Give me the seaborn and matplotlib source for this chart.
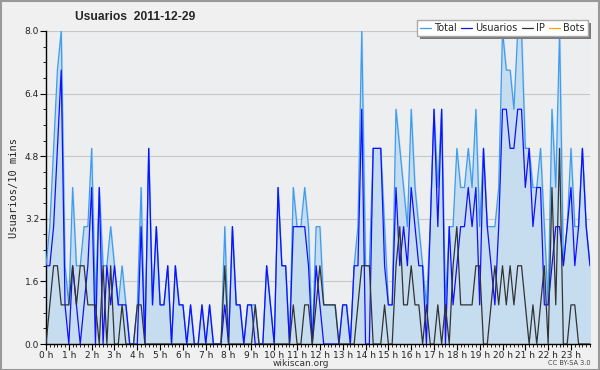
import numpy as np
import matplotlib
matplotlib.use("Agg")
import matplotlib.pyplot as plt
import seaborn as sns
import pandas as pd
from matplotlib.patches import Rectangle

# 10-minute samples over the day (144 points)
total = [2, 3, 5, 7, 8, 2, 1, 4, 2, 2, 3, 3, 5, 1, 4, 2, 2, 3, 2, 1, 2, 1, 0, 0,
         1, 4, 0, 5, 1, 3, 1, 1, 2, 0, 2, 1, 1, 0, 1, 0, 0, 1, 0, 1, 0, 0, 0, 3,
         0, 3, 1, 1, 0, 1, 1, 1, 0, 0, 2, 1, 0, 4, 2, 2, 0, 4, 3, 3, 4, 3, 0, 3,
         3, 1, 1, 1, 1, 0, 1, 1, 0, 2, 3, 8, 2, 2, 5, 5, 5, 3, 1, 1, 6, 5, 4, 3,
         6, 4, 3, 2, 1, 3, 6, 4, 6, 1, 3, 3, 5, 4, 4, 5, 4, 6, 3, 5, 3, 3, 3, 4,
         8, 7, 7, 6, 8, 8, 5, 5, 4, 4, 5, 3, 1, 6, 4, 8, 2, 3, 5, 3, 3, 5, 3, 2]
usuarios = [2, 2, 3, 5, 7, 1, 0, 2, 1, 0, 1, 2, 4, 0, 4, 0, 2, 1, 2, 1, 1, 1, 0, 0,
            0, 3, 0, 5, 1, 3, 1, 1, 2, 0, 2, 1, 1, 0, 1, 0, 0, 1, 0, 1, 0, 0, 0, 1,
            0, 3, 1, 1, 0, 1, 1, 0, 0, 0, 2, 1, 0, 4, 2, 2, 0, 3, 3, 3, 3, 2, 0, 2,
            1, 0, 0, 0, 0, 0, 1, 1, 0, 2, 2, 6, 0, 0, 5, 5, 5, 2, 1, 1, 4, 2, 3, 2,
            4, 3, 2, 2, 0, 3, 6, 3, 6, 0, 3, 1, 2, 3, 3, 4, 3, 4, 1, 5, 3, 2, 1, 3,
            6, 6, 5, 5, 6, 6, 4, 5, 3, 4, 4, 1, 1, 2, 3, 3, 2, 3, 4, 2, 3, 5, 3, 2]
ip = [0, 1, 2, 2, 1, 1, 1, 2, 1, 2, 2, 1, 1, 1, 0, 2, 0, 2, 0, 0, 1, 0, 0, 0,
      1, 1, 0, 0, 0, 0, 0, 0, 0, 0, 0, 0, 0, 0, 0, 0, 0, 0, 0, 0, 0, 0, 0, 2,
      0, 0, 0, 0, 0, 0, 0, 1, 0, 0, 0, 0, 0, 0, 0, 0, 0, 1, 0, 0, 1, 1, 0, 1,
      2, 1, 1, 1, 1, 0, 0, 0, 0, 0, 1, 2, 2, 2, 0, 0, 0, 1, 0, 0, 2, 3, 1, 1,
      2, 1, 1, 0, 1, 0, 0, 1, 0, 1, 0, 2, 3, 1, 1, 1, 1, 2, 2, 0, 0, 1, 2, 1,
      2, 1, 2, 1, 2, 2, 1, 0, 1, 0, 1, 2, 0, 4, 1, 5, 0, 0, 1, 1, 0, 0, 0, 0]
bots = [0] * 144

hours = np.arange(len(total)) / 6.0
hour_labels = [f"{h} h" for h in range(24)]
yticks = [0.0, 1.6, 3.2, 4.8, 6.4, 8.0]

df = pd.DataFrame({"hora": hours, "Total": total, "Usuarios": usuarios,
                   "IP": ip, "Bots": bots})

sns.set_style("white")
plt.rcParams["font.family"] = ["DejaVu Sans"]

fig = plt.figure(figsize=(6, 3.7), dpi=100, facecolor="#f0f0f0")
ax = fig.add_axes([46 / 600, 26 / 370, 544 / 600, 313 / 370])
ax.set_facecolor("#eceef0")

ax.fill_between(df["hora"], df["Total"], color="#c6dcef", zorder=1)
colors = {"Total": "#3d9cf0", "Usuarios": "#1010ff", "IP": "#333333", "Bots": "#ffa500"}
zorders = {"Total": 3, "Usuarios": 3.2, "IP": 3.4, "Bots": 1.5}
for name in ["Total", "Usuarios", "IP", "Bots"]:
    sns.lineplot(data=df, x="hora", y=name, ax=ax, color=colors[name],
                 lw=0.9, label=name, zorder=zorders[name])

ax.set_xlim(0, hours[-1])
ax.set_ylim(0, 8)
ax.set_xticks(range(24))
ax.set_xticklabels(hour_labels, fontsize=6.5, color="#222222")
ax.set_xticks(np.arange(0, 24, 1 / 6), minor=True)
ax.set_yticks(yticks)
ax.set_yticklabels([f"{v:.1f}" for v in yticks], fontsize=6.5, color="#222222")
ax.set_yticks(np.arange(0, 8.01, 0.4), minor=True)
ax.tick_params(axis="both", which="major", length=4, width=0.8, pad=1, color="black")
ax.tick_params(axis="both", which="minor", length=2.5, width=0.6, color="black")
ax.tick_params(axis="x", which="both", bottom=True)
ax.tick_params(axis="y", which="both", left=True)
ax.grid(axis="y", color="#c8c8c8", lw=0.8)
ax.set_axisbelow(True)
for s in ["top", "right"]:
    ax.spines[s].set_visible(False)
for s in ["left", "bottom"]:
    ax.spines[s].set_color("black")
    ax.spines[s].set_linewidth(1.0)
    ax.spines[s].set_zorder(2.5)

ax.set_xlabel("")
ax.set_ylabel("Usuarios/10 mins", fontsize=7.5, family="DejaVu Sans Mono", labelpad=4)

fig.text(0.125, 0.955, "Usuarios  2011-12-29", fontsize=8.7, fontweight="bold",
         family="Liberation Sans", ha="left", va="center")
fig.text(0.502, 0.018, "wikiscan.org", fontsize=6.5, ha="center", va="center", color="#333333")
fig.text(0.985, 0.018, "CC BY-SA 3.0", fontsize=4.8, ha="right", va="center", color="#444444")

leg = ax.legend(ncol=4, loc="upper right", bbox_to_anchor=(588 / 600, 350 / 370),
                bbox_transform=fig.transFigure, fontsize=7, frameon=True, fancybox=False,
                handlelength=1.1, handletextpad=0.35, columnspacing=0.45,
                borderpad=0.3, borderaxespad=0)
leg.get_frame().set_facecolor("white")
leg.get_frame().set_edgecolor("#aaaaaa")
leg.get_frame().set_alpha(1)
leg.set_zorder(10)

# dark shadow offset behind the legend box
fig.canvas.draw()
bb = leg.get_window_extent().transformed(fig.transFigure.inverted())
shadow = Rectangle((bb.x0 + 3 / 600, bb.y0 - 3 / 370), bb.width, bb.height,
                   transform=fig.transFigure, facecolor="#7a7a7a",
                   edgecolor="none", zorder=9, clip_on=False)
ax.add_patch(shadow)

fig.patches.append(Rectangle((0.001, 0.001), 0.997, 0.997, transform=fig.transFigure,
                             facecolor="none", edgecolor="#999999", lw=1.5))

fig.savefig("out.png", dpi=100, facecolor=fig.get_facecolor())
